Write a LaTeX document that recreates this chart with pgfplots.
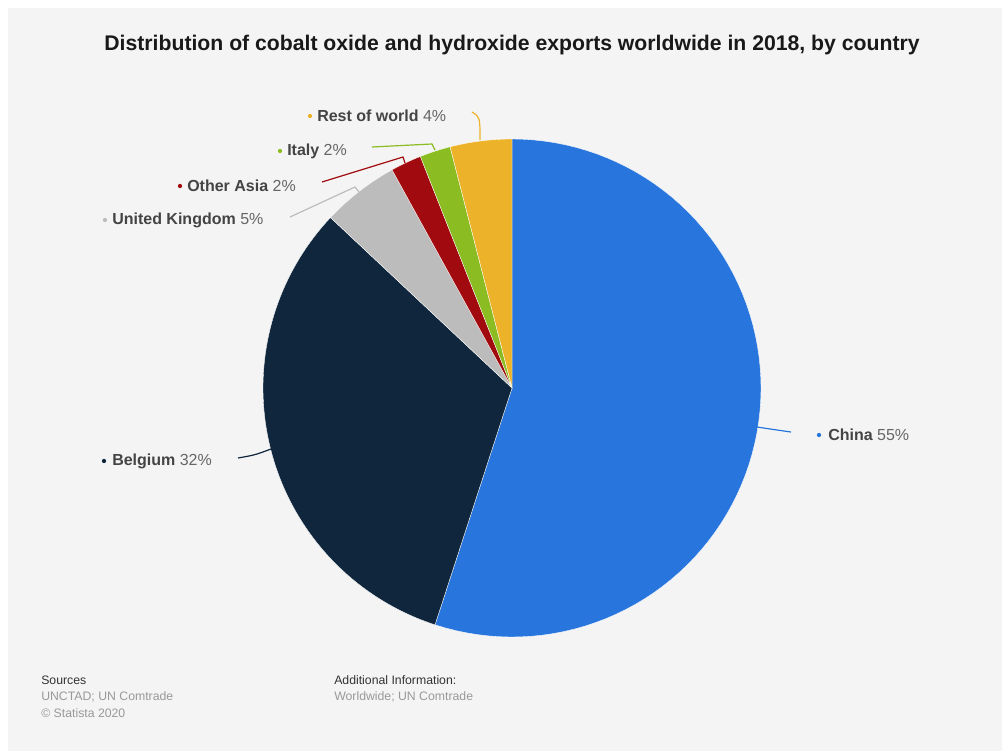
\documentclass[border=0pt]{standalone}
\usepackage{pgfplots}
\pgfplotsset{compat=1.18}
\usepackage{pgfplotstable}
\usepackage{fontspec}
\setmainfont{Liberation Sans}

\definecolor{bg}{HTML}{F4F4F4}
\definecolor{cChina}{HTML}{2876DD}
\definecolor{cBelgium}{HTML}{0F263D}
\definecolor{cUK}{HTML}{BCBCBC}
\definecolor{cAsia}{HTML}{A10A0E}
\definecolor{cItaly}{HTML}{8BBC21}
\definecolor{cRest}{HTML}{ECB22A}
\definecolor{lbl}{HTML}{444444}
\definecolor{pct}{HTML}{666666}
\definecolor{foot}{HTML}{999999}

% shares in percent, clockwise from 12 o'clock
\pgfplotstableread{
name value
China 55
Belgium 32
UK 5
OtherAsia 2
Italy 2
Rest 4
}\sharedata

\pgfplotstablegetelem{0}{value}\of\sharedata \let\vA\pgfplotsretval
\pgfplotstablegetelem{1}{value}\of\sharedata \let\vB\pgfplotsretval
\pgfplotstablegetelem{2}{value}\of\sharedata \let\vC\pgfplotsretval
\pgfplotstablegetelem{3}{value}\of\sharedata \let\vD\pgfplotsretval
\pgfplotstablegetelem{4}{value}\of\sharedata \let\vE\pgfplotsretval
\pgfplotstablegetelem{5}{value}\of\sharedata \let\vF\pgfplotsretval

\pgfmathsetmacro{\aO}{90}
\pgfmathsetmacro{\aA}{\aO-3.6*\vA}
\pgfmathsetmacro{\aB}{\aA-3.6*\vB}
\pgfmathsetmacro{\aC}{\aB-3.6*\vC}
\pgfmathsetmacro{\aD}{\aC-3.6*\vD}
\pgfmathsetmacro{\aE}{\aD-3.6*\vE}
\pgfmathsetmacro{\aF}{\aE-3.6*\vF}

\newcommand{\lab}[2]{{\bfseries\color{lbl}#1} {\color{pct}#2}}

\begin{document}
\begin{tikzpicture}
\begin{axis}[
  width=751.5pt, height=563.25pt, scale only axis,
  xmin=0, xmax=1002, ymin=0, ymax=751,
  hide axis, clip=false,
]
\fill[white] (axis cs:0,0) rectangle (axis cs:1002,751);
\fill[bg] (axis cs:8,0) rectangle (axis cs:1002,743);

\node[font=\bfseries\fontsize{15.9}{18}\selectfont, color=black!90] at (axis cs:512,706) {Distribution of cobalt oxide and hydroxide exports worldwide in 2018, by country};

\pgfplotsset{slice/.style={draw=white, line width=0.25pt, samples=80}}
\addplot[slice, fill=cChina,   domain=\aA:\aO] ({512+249*cos(x)},{363+249*sin(x)}) -- (axis cs:512,363) -- cycle;
\addplot[slice, fill=cBelgium, domain=\aB:\aA] ({512+249*cos(x)},{363+249*sin(x)}) -- (axis cs:512,363) -- cycle;
\addplot[slice, fill=cUK,      domain=\aC:\aB] ({512+249*cos(x)},{363+249*sin(x)}) -- (axis cs:512,363) -- cycle;
\addplot[slice, fill=cAsia,    domain=\aD:\aC] ({512+249*cos(x)},{363+249*sin(x)}) -- (axis cs:512,363) -- cycle;
\addplot[slice, fill=cItaly,   domain=\aE:\aD] ({512+249*cos(x)},{363+249*sin(x)}) -- (axis cs:512,363) -- cycle;
\addplot[slice, fill=cRest,    domain=\aF:\aE] ({512+249*cos(x)},{363+249*sin(x)}) -- (axis cs:512,363) -- cycle;

% leader lines
\draw[cChina, line width=0.9pt] (axis cs:757,324) .. controls (axis cs:770,322) .. (axis cs:791,319);
\draw[cBelgium, line width=0.9pt] (axis cs:238,293) .. controls (axis cs:255,296) .. (axis cs:271,302);
\draw[cUK, line width=0.9pt] (axis cs:290,534) -- (axis cs:355,564) -- (axis cs:359,559);
\draw[cAsia, line width=0.9pt] (axis cs:322,569) -- (axis cs:403,594) -- (axis cs:405,588);
\draw[cItaly, line width=0.9pt] (axis cs:372,604) -- (axis cs:432,607) -- (axis cs:435,601);
\draw[cRest, line width=0.9pt] (axis cs:472,639) .. controls (axis cs:480,634) .. (axis cs:480,611);

% label bullets
\fill[cChina]   (axis cs:819,316) circle[radius=1.6pt];
\fill[cBelgium] (axis cs:104,290) circle[radius=1.6pt];
\fill[cUK]      (axis cs:105,531) circle[radius=1.6pt];
\fill[cAsia]    (axis cs:180,565) circle[radius=1.6pt];
\fill[cItaly]   (axis cs:280,600) circle[radius=1.6pt];
\fill[cRest]    (axis cs:310,635) circle[radius=1.6pt];

% labels
\begin{scope}[every node/.style={font=\fontsize{12}{14}\selectfont, anchor=west, inner sep=0pt}]
\node at (axis cs:828,316) {\lab{China}{55\%}};
\node at (axis cs:112,290) {\lab{Belgium}{32\%}};
\node at (axis cs:112,531) {\lab{United Kingdom}{5\%}};
\node at (axis cs:187,565) {\lab{Other Asia}{2\%}};
\node at (axis cs:287,600) {\lab{Italy}{2\%}};
\node at (axis cs:317,635) {\lab{Rest of world}{4\%}};
\end{scope}

% footer
\begin{scope}[every node/.style={font=\fontsize{9.2}{11}\selectfont, anchor=west, inner sep=0pt}]
\node[color=black!80] at (axis cs:41,71) {Sources};
\node[color=foot] at (axis cs:41,54) {UNCTAD; UN Comtrade};
\node[color=foot] at (axis cs:41,38) {\textcopyright{} Statista 2020};
\node[color=black!80] at (axis cs:334,71) {Additional Information:};
\node[color=foot] at (axis cs:334,54) {Worldwide; UN Comtrade};
\end{scope}
\end{axis}
\end{tikzpicture}
\end{document}
